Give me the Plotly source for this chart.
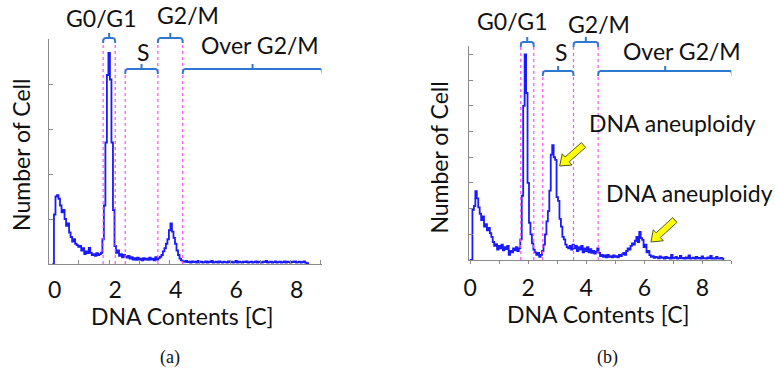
import math
import plotly.graph_objects as go

W, H = 775, 373

# ---------------- data ----------------
# Panel (a): histogram counts (relative units), bin left edges start at -0.075, width 0.05
a_x0, a_dx = -0.075, 0.05
counts_a = [
    0.0, 1.1, 1.5, 1.53, 1.45, 1.3, 1.15, 1.2, 1.0, 0.85,
    0.9, 0.7, 0.6, 0.5, 0.55, 0.45, 0.42, 0.38, 0.4, 0.3,
    0.35, 0.22, 0.28, 0.24, 0.36, 0.25, 0.2, 0.22, 0.18, 0.24,
    0.2, 0.22, 0.25, 0.55, 1.3, 2.7, 4.2, 4.69, 4.1, 2.7,
    1.2, 0.4, 0.25, 0.3, 0.18, 0.22, 0.15, 0.2, 0.17, 0.14,
    0.18, 0.12, 0.15, 0.1, 0.13, 0.09, 0.14, 0.1, 0.12, 0.08,
    0.13, 0.1, 0.12, 0.09, 0.14, 0.1, 0.12, 0.08, 0.15, 0.1,
    0.13, 0.16, 0.2, 0.28, 0.35, 0.45, 0.55, 0.75, 0.9, 0.72,
    0.58, 0.45, 0.3, 0.2, 0.12, 0.08, 0.06, 0.05, 0.07, 0.04,
    0.05, 0.03, 0.06, 0.04, 0.05, 0.03, 0.07, 0.04, 0.05, 0.03,
    0.04, 0.06, 0.03, 0.05, 0.04, 0.07, 0.03, 0.04, 0.05, 0.03,
    0.06, 0.04, 0.03, 0.05, 0.04, 0.03, 0.06, 0.04, 0.05, 0.03,
    0.04, 0.07, 0.03, 0.05, 0.04, 0.03, 0.05, 0.04, 0.06, 0.03,
    0.04, 0.05, 0.03, 0.04, 0.06, 0.03, 0.05, 0.04, 0.03, 0.05,
    0.04, 0.07, 0.03, 0.04, 0.05, 0.03, 0.04, 0.06, 0.03, 0.04,
    0.05, 0.03, 0.04, 0.06, 0.03, 0.05, 0.04, 0.03, 0.05, 0.04,
    0.06, 0.03, 0.04, 0.05, 0.03, 0.04, 0.06, 0.03, 0.02, 0.0,
]

# Panel (b): histogram counts, bin left edges start at -0.025, width 0.05
b_x0, b_dx = -0.025, 0.05
counts_b = [
    0.0, 0.0, 1.95, 2.1, 2.68, 2.4, 2.05, 1.8, 1.55, 1.7,
    1.3, 1.4, 1.15, 1.25, 1.05, 0.9, 0.7, 0.55, 0.62, 0.4,
    0.55, 0.45, 0.6, 0.38, 0.5, 0.42, 0.55, 0.2, 0.35, 0.3,
    0.45, 0.38, 0.5, 0.35, 0.45, 0.8, 2.5, 6.0, 8.0, 6.5,
    3.0, 1.45, 1.0, 0.65, 0.4, 0.3, 0.2, 0.28, 0.12, 0.2,
    0.35, 0.6, 1.0, 1.5, 1.9, 2.7, 4.1, 4.47, 4.0, 3.9,
    2.45, 2.3, 1.6, 1.3, 0.9, 0.8, 0.6, 0.5, 0.45, 0.55,
    0.4, 0.6, 0.45, 0.55, 0.35, 0.5, 0.4, 0.55, 0.3, 0.45,
    0.35, 0.5, 0.3, 0.42, 0.28, 0.35, 0.25, 0.32, 0.45, 0.28,
    0.15, 0.2, 0.12, 0.18, 0.1, 0.2, 0.12, 0.15, 0.1, 0.18,
    0.12, 0.15, 0.1, 0.2, 0.15, 0.22, 0.28, 0.2, 0.35, 0.45,
    0.4, 0.55, 0.65, 0.6, 0.75, 0.9, 0.7, 1.09, 0.85, 0.78,
    0.5, 0.6, 0.3, 0.35, 0.19, 0.12, 0.15, 0.08, 0.12, 0.1,
    0.06, 0.14, 0.08, 0.1, 0.05, 0.12, 0.07, 0.09, 0.05, 0.2,
    0.06, 0.08, 0.12, 0.05, 0.07, 0.16, 0.06, 0.08, 0.05, 0.1,
    0.06, 0.18, 0.05, 0.07, 0.09, 0.05, 0.12, 0.06, 0.08, 0.05,
    0.14, 0.06, 0.07, 0.05, 0.1, 0.06, 0.16, 0.05, 0.07, 0.05,
    0.12, 0.06, 0.05, 0.08, 0.05, 0.0,
]

# gate boundaries (DNA content, C)
gates_a = [1.6, 2.0, 2.33, 3.41, 4.23]
end_a = 8.85
gates_b = [1.74, 2.19, 2.5, 3.56, 4.41]
end_b = 9.03

phase_labels = ["G0/G1", "S", "G2/M", "Over G2/M"]
x_ticks = [0, 2, 4, 6, 8]
x_label = "DNA Contents [C]"
y_label = "Number of Cell"
aneu_label = "DNA aneuploidy"
panel_labels = ["(a)", "(b)"]

# ---------------- styling helpers ----------------
FONT = "Lato"
FS = 23
BLUE = "#1a1aff"
BRACKET = "#2f78d2"
MAGENTA = "#ff4dff"
AXIS = "#8a8a8a"


def px(xp):
    return xp / W


def py(yp):
    return 1 - yp / H


fig = go.Figure()
fig.add_trace(go.Scatter(x0=a_x0, dx=a_dx, y=counts_a, mode="lines",
                         line=dict(color=BLUE, width=1.8, shape="hv"),
                         xaxis="x", yaxis="y", showlegend=False, hoverinfo="skip"))
fig.add_trace(go.Scatter(x0=b_x0, dx=b_dx, y=counts_b, mode="lines",
                         line=dict(color=BLUE, width=1.8, shape="hv"),
                         xaxis="x2", yaxis="y2", showlegend=False, hoverinfo="skip"))

tickfont = dict(family=FONT, size=FS, color="#111")
common_x = dict(showline=True, linecolor=AXIS, linewidth=1, showgrid=False, zeroline=False,
                tickfont=tickfont, fixedrange=True)
common_y = dict(showline=True, linecolor=AXIS, linewidth=1, showgrid=False, zeroline=False,
                showticklabels=False, ticks="inside", ticklen=4, tickcolor=AXIS, fixedrange=True)

fig.update_layout(
    width=W, height=H, margin=dict(l=0, r=0, t=0, b=0),
    paper_bgcolor="white", plot_bgcolor="white",
    xaxis=dict(domain=[px(43), px(318)], range=[-0.2, 8.82], anchor="y",
               tickvals=x_ticks, ticks="", ticklabelstandoff=5,
               minor=dict(tickmode="linear", tick0=0.8, dtick=1, ticks="inside",
                          ticklen=4, tickcolor=AXIS),
               **common_x),
    yaxis=dict(domain=[py(264), py(39)], range=[0, 5], anchor="x",
               tickvals=[1, 2, 3, 4], **common_y),
    xaxis2=dict(domain=[px(467), px(731)], range=[-0.03, 9.0], anchor="y2",
                tickvals=list(range(10)),
                ticktext=[str(v) if v in x_ticks else "" for v in range(10)],
                ticks="outside", ticklen=3, tickcolor=AXIS, ticklabelstandoff=4,
                **common_x),
    yaxis2=dict(domain=[py(260), py(46)], range=[0, 8.33], anchor="x2",
                tickvals=list(range(1, 9)), **common_y),
)

shapes = []
annotations = []


def bracket(xref, xa, xb, yp):
    """curly-ish bracket spanning data x xa..xb at pixel height yp"""
    yb = py(yp)
    hk = 5 / H
    tk = 5 / H
    r = 0.08
    xm = (xa + xb) / 2
    path = (f"M {xa},{yb - hk} Q {xa},{yb} {xa + r},{yb} L {xb - r},{yb} "
            f"Q {xb},{yb} {xb},{yb - hk} M {xm},{yb} L {xm},{yb + tk}")
    shapes.append(dict(type="path", xref=xref, yref="paper", path=path,
                       line=dict(color=BRACKET, width=2)))


def gate_lines(xref, yref_dom, gates, tops):
    for g, top in zip(gates, tops):
        shapes.append(dict(type="line", xref=xref, yref="paper", x0=g, x1=g,
                           y0=yref_dom, y1=py(top),
                           line=dict(color=MAGENTA, width=1.2, dash="dot")))


def label(text, xp, yp, size=FS, fam=FONT):
    annotations.append(dict(text=text, x=px(xp), y=py(yp), xref="paper", yref="paper",
                            showarrow=False, xanchor="center", yanchor="middle",
                            font=dict(family=fam, size=size, color="#111")))


def arrow(tail, tip):
    (tx, ty), (hx, hy) = tail, tip
    L = math.hypot(hx - tx, hy - ty)
    dx, dy = (hx - tx) / L, (hy - ty) / L
    nx, ny = -dy, dx
    sw, hw, hl = 3.2, 7.5, 10
    bx, by = hx - dx * hl, hy - dy * hl
    pts = [(tx + nx * sw, ty + ny * sw), (bx + nx * sw, by + ny * sw),
           (bx + nx * hw, by + ny * hw), (hx, hy), (bx - nx * hw, by - ny * hw),
           (bx - nx * sw, by - ny * sw), (tx - nx * sw, ty - ny * sw)]
    path = "M " + " L ".join(f"{px(x)},{py(y)}" for x, y in pts) + " Z"
    shapes.append(dict(type="path", xref="paper", yref="paper", path=path,
                       fillcolor="#ffff00", line=dict(color="#55552a", width=1)))


# Panel (a)
up_a, lo_a = 38, 69
gate_lines("x", py(264), gates_a, [up_a, up_a, lo_a, up_a, up_a])
bracket("x", gates_a[0], gates_a[1], up_a)
bracket("x", gates_a[2], gates_a[3], lo_a)
bracket("x", gates_a[3], gates_a[4], up_a)
bracket("x", gates_a[4], end_a, lo_a)
label(phase_labels[0], 96, 18)
label(phase_labels[1], 138, 52)
label(phase_labels[2], 183, 15)
label(phase_labels[3], 256, 45)
label(x_label, 178, 316)
annotations.append(dict(text=y_label, x=px(15), y=py(155), xref="paper", yref="paper",
                        showarrow=False, textangle=-90, xanchor="center", yanchor="middle",
                        font=dict(family=FONT, size=FS, color="#111")))
label(panel_labels[0], 165, 357, size=18, fam="Liberation Serif")

# Panel (b)
up_b, lo_b = 42, 71
gate_lines("x2", py(260), gates_b, [up_b, up_b, lo_b, up_b, up_b])
bracket("x2", gates_b[0], gates_b[1], up_b)
bracket("x2", gates_b[2], gates_b[3], lo_b)
bracket("x2", gates_b[3], gates_b[4], up_b)
bracket("x2", gates_b[4], end_b, lo_b)
label(phase_labels[0], 510, 21)
label(phase_labels[1], 559, 52)
label(phase_labels[2], 598, 24)
label(phase_labels[3], 681, 51)
label(aneu_label, 672, 123)
label(aneu_label, 689, 193)
label(x_label, 597, 314)
annotations.append(dict(text=y_label, x=px(436), y=py(158), xref="paper", yref="paper",
                        showarrow=False, textangle=-90, xanchor="center", yanchor="middle",
                        font=dict(family=FONT, size=FS, color="#111")))
label(panel_labels[1], 606, 357, size=18, fam="Liberation Serif")

arrow((582, 145), (558, 166))
arrow((674, 220), (650, 242))

fig.update_layout(shapes=shapes, annotations=annotations)
fig.write_html("out.html")
